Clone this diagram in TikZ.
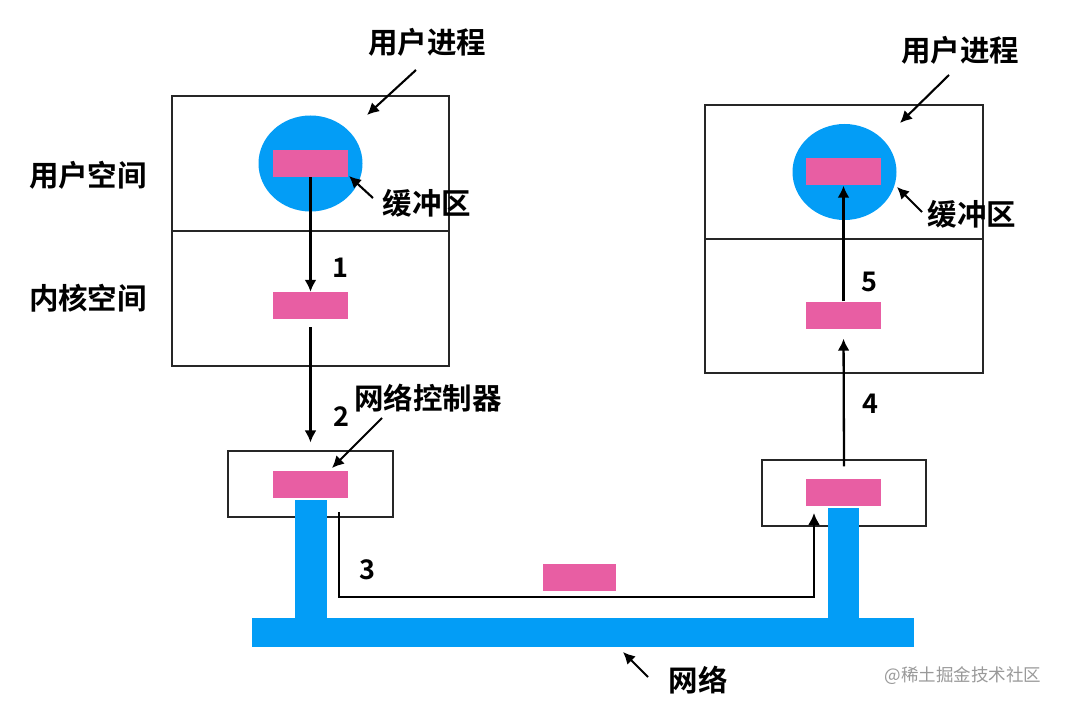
\documentclass[tikz,border=0pt]{standalone}
\usepackage{fontspec}
\setmainfont{Noto Sans CJK SC}[BoldFont={* Bold}]
\usetikzlibrary{arrows.meta}
\usetikzlibrary{calc}

\definecolor{netblue}{RGB}{3,157,246}
\definecolor{bufpink}{RGB}{232,94,163}

\tikzset{
	frame/.style={draw=black!85, line width=1.1pt, inner sep=0pt},
	buf/.style={fill=bufpink, inner sep=0pt, minimum width=75pt, minimum height=27pt},
	flow/.style={line width=2.3pt, -{Latex[length=12pt,width=12pt]}},
	pointer/.style={line width=2.1pt, -{Latex[length=12pt,width=12pt]}},
	lbl/.style={font=\bfseries\fontsize{29.5}{31}\selectfont, inner sep=0pt},
	num/.style={font=\bfseries\fontsize{27}{29}\selectfont, inner sep=0pt}
}

\begin{document}
\begin{tikzpicture}[x=1pt, y=-1pt]
	\useasboundingbox[fill=white] (0,0) rectangle (1080,706);

	% sender side
	\node[frame, minimum width=277pt, minimum height=135pt] (userL) at (310.5,163.5) {};
	\node[frame, minimum width=277pt, minimum height=135pt] (kernL) at (310.5,298.5) {};
	\node[frame, minimum width=165pt, minimum height=66pt] (nicL) at (310.5,484) {};
	\fill[netblue] (310.5,163.5) ellipse (52pt and 48pt);
	\node[buf] (ubufL) at (310.5,163.5) {};
	\node[buf] (kbufL) at (310.5,305.5) {};
	\node[buf] (nbufL) at (310.5,484) {};

	% receiver side
	\node[frame, minimum width=278pt, minimum height=134pt] (userR) at (844,172) {};
	\node[frame, minimum width=278pt, minimum height=134pt] (kernR) at (844,306) {};
	\node[frame, minimum width=164pt, minimum height=66pt] (nicR) at (844,493) {};
	\fill[netblue] (844.5,172) ellipse (52pt and 48pt);
	\node[buf] (ubufR) at (843.5,172) {};
	\node[buf] (kbufR) at (843.5,315) {};
	\node[buf] (nbufR) at (843.5,492.5) {};

	% network cable
	\fill[netblue] (295,500) rectangle (327,620);
	\fill[netblue] (828,508) rectangle (859,620);
	\fill[netblue] (252,618) rectangle (914,647);
	\node[buf, minimum width=73pt] (wbuf) at (579.5,577.5) {};

	% data path
	\draw[flow] (ubufL.south) -- (kbufL.north);
	\draw[flow, shorten <=8pt, shorten >=8pt] (kbufL.south) -- (nicL.north);
	\coordinate (p3s) at (339,512);
	\coordinate (p3e) at (814,513);
	\draw[flow] (p3s) -- ++(0,85) -| (p3e);
	\draw[flow, shorten <=-7pt, shorten >=10pt] (nicR.north) -- (kbufR.south);
	\draw[flow] (kbufR.north) -- (ubufR.south);

	\node[num] (n1) at (340,268) {1};
	\node[num] (n2) at (341,417) {2};
	\node[num] (n3) at (367,570) {3};
	\node[num] (n4) at (870,404) {4};
	\node[num] (n5) at (869,282) {5};

	% labels
	\node[lbl] (tUserL) at (427,42) {用户进程};
	\node[lbl] (tUserR) at (960,50) {用户进程};
	\node[lbl] (tBufL) at (427,203) {缓冲区};
	\node[lbl] (tBufR) at (972,214) {缓冲区};
	\node[lbl] (tUser) at (88,175) {用户空间};
	\node[lbl] (tKern) at (88,298) {内核空间};
	\node[lbl] (tNic) at (428,398) {网络控制器};
	\node[lbl] (tNet) at (698,680) {网络};
	\node[font=\fontsize{17.5}{19}\selectfont, text=black!40, inner sep=0pt] (mark) at (963,676) {@稀土掘金技术社区};

	\coordinate (a1) at (416,70);   \coordinate (b1) at (367,115);
	\coordinate (a2) at (949,75);   \coordinate (b2) at (900,123);
	\coordinate (a3) at (373,198);  \coordinate (b3) at (349,176);
	\coordinate (a4) at (922,212);  \coordinate (b4) at (897,187);
	\coordinate (a5) at (382,418);  \coordinate (b5) at (332,468);
	\coordinate (a6) at (648,677);  \coordinate (b6) at (623,652);
	\foreach \i in {1,...,6}
		\draw[pointer] (a\i) -- (b\i);
\end{tikzpicture}
\end{document}
